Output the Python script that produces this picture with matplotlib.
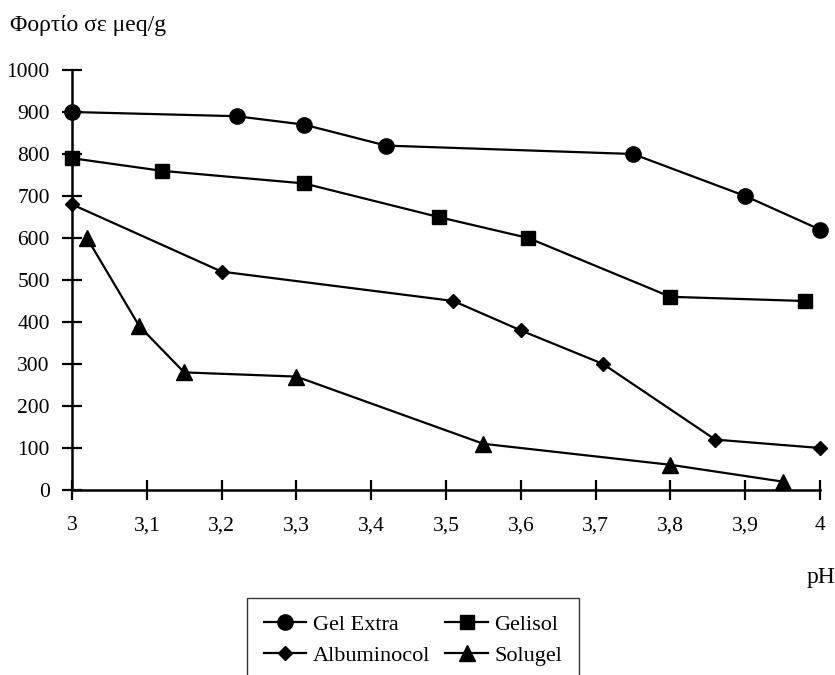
import matplotlib
matplotlib.use("Agg")
import matplotlib.pyplot as plt

# δεδομένα (pH, φορτίο σε μeq/g)
ph_gel_extra = [3.0, 3.22, 3.31, 3.42, 3.75, 3.9, 4.0]
gel_extra = [900, 890, 870, 820, 800, 700, 620]

ph_gelisol = [3.0, 3.12, 3.31, 3.49, 3.61, 3.8, 3.98]
gelisol = [790, 760, 730, 650, 600, 460, 450]

ph_albuminocol = [3.0, 3.2, 3.51, 3.6, 3.71, 3.86, 4.0]
albuminocol = [680, 520, 450, 380, 300, 120, 100]

ph_solugel = [3.02, 3.09, 3.15, 3.3, 3.55, 3.8, 3.95]
solugel = [600, 390, 280, 270, 110, 60, 20]

x_ticks = [3.0, 3.1, 3.2, 3.3, 3.4, 3.5, 3.6, 3.7, 3.8, 3.9, 4.0]
x_labels = ["3", "3,1", "3,2", "3,3", "3,4", "3,5", "3,6", "3,7", "3,8", "3,9", "4"]
y_ticks = [0, 100, 200, 300, 400, 500, 600, 700, 800, 900, 1000]

plt.rcParams['font.family'] = ['Liberation Serif', 'DejaVu Serif']

fig = plt.figure(figsize=(8.35, 6.75), dpi=100)
ax = fig.add_axes([72 / 835, 1 - 490 / 675, 748 / 835, 420 / 675])

kw = dict(color='black', lw=1.6, clip_on=False)
l1, = ax.plot(ph_gel_extra, gel_extra, marker='o', ms=11, label='Gel Extra', **kw)
l2, = ax.plot(ph_gelisol, gelisol, marker='s', ms=10.5, label='Gelisol', **kw)
l3, = ax.plot(ph_albuminocol, albuminocol, marker='D', ms=7.5, label='Albuminocol', **kw)
l4, = ax.plot(ph_solugel, solugel, marker='^', ms=11, label='Solugel', **kw)

ax.set_xlim(3, 4)
ax.set_ylim(0, 1000)
ax.set_xticks(x_ticks)
ax.set_xticklabels(x_labels)
ax.set_yticks(y_ticks)
ax.tick_params(axis='both', direction='inout', length=14, width=1.6, labelsize=15.5,
               colors='black')
ax.tick_params(axis='x', pad=12)
ax.tick_params(axis='y', pad=9)
for s in ['top', 'right']:
    ax.spines[s].set_visible(False)
for s in ['left', 'bottom']:
    ax.spines[s].set_linewidth(1.8)

fig.text(10 / 835, 1 - 25 / 675, 'Φορτίο σε μeq/g', fontsize=17, va='center', ha='left')
fig.text(821 / 835, 1 - 578 / 675, 'pH', fontsize=17, va='center', ha='center')

# σειρά ανά γραμμή όπως στο πρωτότυπο
leg = fig.legend([l1, l3, l2, l4], ['Gel Extra', 'Albuminocol', 'Gelisol', 'Solugel'],
                 loc='upper left', bbox_to_anchor=(247 / 835, 1 - 598 / 675), ncol=2,
                 fontsize=16, frameon=True, fancybox=False, edgecolor='black',
                 handlelength=1.9, handletextpad=0.3, columnspacing=0.7,
                 borderpad=0.75, labelspacing=0.45, borderaxespad=0)
leg.get_frame().set_linewidth(1.0)

fig.savefig('out.png', dpi=100)
